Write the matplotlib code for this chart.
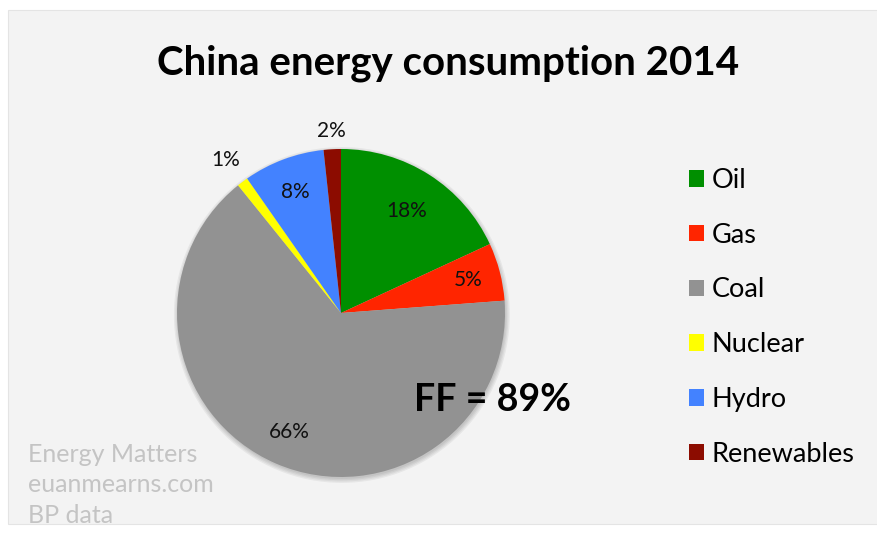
# China energy consumption 2014 - pie chart
import numpy as np
import matplotlib
matplotlib.use("Agg")
import matplotlib.pyplot as plt
from matplotlib.patches import Rectangle, Circle

# Data (shares in %)
sources = ["Oil", "Gas", "Coal", "Nuclear", "Hydro", "Renewables"]
shares = [18.1, 5.7, 65.4, 1.1, 8.0, 1.7]
share_labels = ["18%", "5%", "66%", "1%", "8%", "2%"]
colors = ["#008f00", "#ff2500", "#929292", "#ffff00", "#4382ff", "#8c0c00"]

# Label distance from centre (fraction of radius) per slice
label_dist = [0.74, 0.80, 0.79, 1.17, 0.79, 1.11]

plt.rcParams["font.family"] = ["Lato", "DejaVu Sans"]

# Figure: 877x534 px
fig = plt.figure(figsize=(8.77, 5.34), dpi=100)
fig.patch.set_facecolor("white")

# Light grey chart panel
fig.patches.append(Rectangle((8 / 877, 10 / 534), 1, 514 / 534,
                             transform=fig.transFigure, facecolor="#f3f3f3",
                             edgecolor="#e4e4e4", linewidth=0.8, zorder=-10))

# Pie axes: centre (341, 313) px, radius 164 px
r_px = 164
half = 1.25 * r_px
ax = fig.add_axes([(341 - half) / 877, (534 - 313 - half) / 534,
                   2 * half / 877, 2 * half / 534])
ax.set_zorder(2)

# Soft shadow under the pie
for k in range(4):
    ax.add_patch(Circle((0.005, -0.012), 1.0 + 0.008 * k, facecolor="black",
                        edgecolor="none", alpha=0.05, zorder=0))

wedges, _ = ax.pie(shares, colors=colors, startangle=90, counterclock=False,
                   wedgeprops=dict(linewidth=0, zorder=1))
ax.set_xlim(-1.25, 1.25)
ax.set_ylim(-1.25, 1.25)
ax.set_aspect("equal")
ax.axis("off")

# Percent labels placed along each wedge's middle angle
for w, txt, d in zip(wedges, share_labels, label_dist):
    ang = np.deg2rad((w.theta1 + w.theta2) / 2)
    ax.text(d * np.cos(ang), d * np.sin(ang), txt, ha="center", va="center",
            fontsize=15, color="#111111", zorder=3)

# Title
fig.text(448 / 877, 1 - 63 / 534, "China energy consumption 2014",
         ha="center", va="center", fontsize=29, fontweight="bold")

# Fossil fuel total
fig.text(492 / 877, 1 - 400 / 534, "FF = 89%", ha="center", va="center",
         fontsize=27, fontweight="bold", zorder=5)

# Legend
fig.legend(wedges, sources, loc="upper left",
           bbox_to_anchor=(678 / 877, 1 - 157 / 534), frameon=False,
           fontsize=19.5, labelspacing=1.1, handlelength=0.56,
           handleheight=0.56, handletextpad=0.27, borderaxespad=0)

# Watermark
fig.text(28 / 877, 1 - 485 / 534, "Energy Matters\neuanmearns.com\nBP data",
         ha="left", va="center", fontsize=18, color="#c4c4c4",
         linespacing=1.42)

fig.savefig("out.png", dpi=100, facecolor=fig.get_facecolor())
